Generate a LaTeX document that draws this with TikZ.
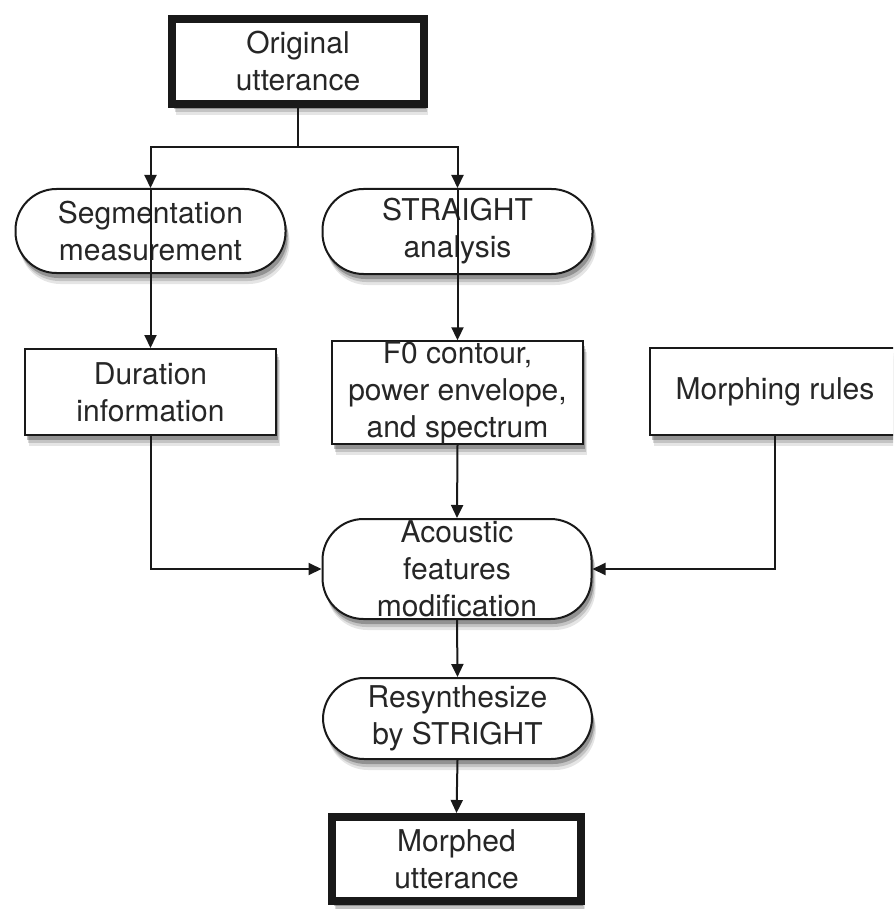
\documentclass[tikz,border=0pt]{standalone}
\usepackage{fontspec}
\setmainfont{TeX Gyre Heros}
\usetikzlibrary{arrows.meta,shadows}

\tikzset{
  % layered soft shadow under each step
  softshadow/.style={
    drop shadow={shadow xshift=4pt, shadow yshift=-11pt, opacity=.10, fill=black},
    drop shadow={shadow xshift=3pt, shadow yshift=-8pt, opacity=.15, fill=black},
    drop shadow={shadow xshift=2pt, shadow yshift=-5pt, opacity=.25, fill=black}},
  base/.style={draw=black!90, fill=white, inner sep=0pt, align=center,
    text=black!85, font=\fontsize{30}{37}\selectfont, softshadow},
  thinbox/.style={base, rectangle, line width=2pt},
  thickbox/.style={base, rectangle, line width=8pt},
  pill/.style={base, rectangle, rounded corners=41pt, line width=2pt},
  link/.style={draw=black!90, line width=2pt},
  arr/.style={link, -{Triangle[length=13pt,width=12pt]}},
}

\begin{document}
\begin{tikzpicture}[x=1pt,y=-1pt]
  \useasboundingbox (0,0) rectangle (893,909);
  \clip (0,0) rectangle (893,909);

  % process steps
  \node[thickbox, minimum width=252pt, minimum height=85pt] (orig) at (298,61.5) {Original\\utterance};
  \node[pill, minimum width=270pt, minimum height=84pt] (seg) at (150.5,231) {Segmentation\\measurement};
  \node[pill, minimum width=270pt, minimum height=85pt] (str) at (457.5,231.5) {STRAIGHT\\analysis};
  \node[thinbox, minimum width=251pt, minimum height=86pt] (dur) at (150.5,392) {Duration\\information};
  \node[thinbox, minimum width=251pt, minimum height=101pt] (f0) at (457.5,392.5) {F0 contour,\\power envelope,\\and spectrum};
  \node[thinbox, minimum width=250pt, minimum height=87pt] (mor) at (775,391.5) {Morphing rules};
  \node[pill, minimum width=269pt, minimum height=100pt] (aco) at (457,569) {Acoustic\\features\\modification};
  \node[pill, minimum width=269pt, minimum height=81pt] (res) at (457.5,718.5) {Resynthesize\\by STRIGHT};
  \node[thickbox, minimum width=249pt, minimum height=84pt] (out) at (456.5,859) {Morphed\\utterance};

  % connectors
  \coordinate (split) at (298,147);
  \draw[link] (orig.south) -- (split);
  \draw[arr] (split) -| (seg.north);
  \draw[arr] (split) -| (str.north);
  \draw[arr] (seg.north) -- (dur.north);
  \draw[arr] (str.north) -- (f0.north);
  \draw[arr] (dur.south) |- (aco.west);
  \draw[arr] (mor.south) |- (aco.east);
  \draw[arr] (f0.south) -- (aco.north);
  \draw[arr] (aco.south) -- (res.north);
  \draw[arr] (res.south) -- (out.north);
\end{tikzpicture}
\end{document}
